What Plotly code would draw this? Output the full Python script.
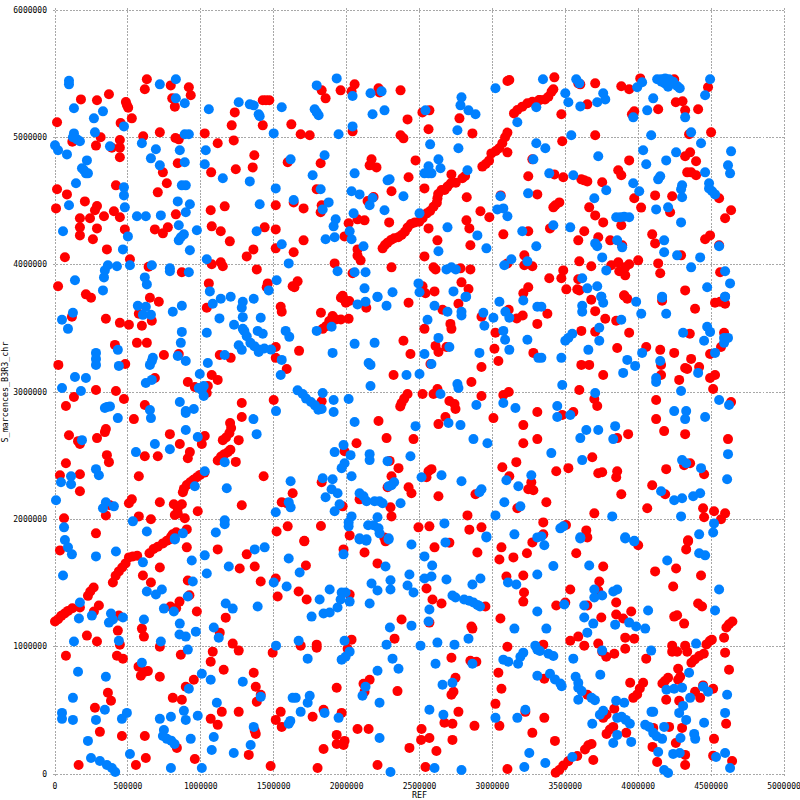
import plotly.graph_objects as go

# Match positions, in kilobases: (REF, S_marcences_B3R3_chr)
red_upper_left = [(630,5456),(616,5377),(794,5408),(918,5393),(931,5330),(804,5306),(822,5241),(178,5298),(288,5291),(370,5338),(486,5277),(493,5254),(502,5233),(527,5149),(450,5113),(14,5118),(605,5008),(719,5039),(826,4995),(849,4984),(1027,5031),(1116,4953),(1226,4976),(1212,5094),(1233,5196),(1425,5291),(1470,5291),(1447,5291),(1425,5094),(1621,5102),(313,5000),(119,4966),(281,4935),(445,4979),(445,4919),(390,4919),(445,4843),(842,4796),(740,4725),(767,4639),(705,4568),(418,4623),(14,4592),(82,4552),(205,4497),(288,4461),(274,4427),(7,4442),(171,4364),(240,4364),(336,4380),(404,4419),(445,4372),(171,4293),(288,4285),(171,4230),(260,4199),(479,4277),(356,4120),(68,4058),(514,4042),(642,3984),(685,4277),(740,4246),(774,4293),(829,4395),(870,3940),(1075,4003),(1137,4018),(1151,3987),(1075,4301),(1137,4262),(1199,4183),(1068,4427),(1164,4458),(1071,4725),(1240,4749),(1356,4764),(1367,4859),(1596,4804),(1438,4293),(1514,4277),(1514,4466),(1637,4489),(1361,4120),(1315,4065),(1514,4128),(1637,4097),(1384,3963),(1055,3853),(1459,3853),(1452,3822),(1630,3830),(21,3830),(212,3767)]
blue_upper_left = [(96,5445),(96,5416),(130,5228),(329,5204),(267,5149),(473,5086),(274,5039),(130,5031),(123,5000),(151,4984),(171,4969),(0,4937),(21,4898),(82,4866),(377,4929),(219,4819),(185,4757),(199,4741),(212,4717),(226,4717),(144,4639),(473,4607),(473,4544),(479,4450),(96,4466),(55,4262),(500,4222),(466,4120),(363,3995),(425,3987),(514,3995),(342,3955),(336,3900),(137,3877),(329,3798),(829,5456),(719,5416),(829,5306),(890,5267),(596,4953),(692,4906),(658,4835),(719,4780),(856,4898),(890,4804),(890,5024),(918,5024),(870,4623),(897,4623),(842,4497),(925,4474),(897,4411),(562,4380),(623,4380),(726,4387),(849,4309),(973,4270),(884,4238),(849,4191),(863,4215),(925,4113),(664,3995),(788,3971),(788,3948),(918,3940),(616,3900),(630,3845),(1055,5220),(1034,4898),(1027,4788),(1151,4678),(1336,4654),(1260,5275),(1336,5259),(1363,5251),(1397,5181),(1404,5165),(1555,5236),(1500,5031),(1616,4827),(1514,4599),(1637,4508),(1404,4474),(1383,4262),(1555,4160),(1603,4010),(1041,4042),(1520,3877),(1466,3798),(1062,3790)]
red_upper_mid = [(1829,5369),(1856,5306),(1959,5369),(2055,5416),(2034,5361),(2219,5385),(2226,5353),(2370,5369),(1685,5024),(1747,5016),(2041,5047),(2370,5016),(2390,4992),(2418,5141),(2562,5063),(2520,5196),(2568,5212),(2774,5149),(2863,5031),(3103,5442),(3116,5450),(1822,4796),(2171,4827),(2158,4780),(2205,4764),(2473,4819),(2425,4686),(1795,4592),(2308,4576),(2534,4599),(2185,4531),(2144,4500),(1705,4442),(1829,4466),(1822,4411),(2075,4356),(2123,4348),(2014,4325),(2292,4332),(2562,4285),(1705,4191),(1986,4222),(1918,4010),(2075,4120),(2075,4071),(2096,4034),(2041,3932),(2308,3979),(2534,4065),(2623,4191),(2596,3979),(2610,3963),(2781,3971),(2849,3963),(2822,4348),(2842,4285),(2849,4152),(2918,4419),(2979,4372),(3075,4238),(3246,4262),(2824,4529),(2719,4709),(3057,4544),(3246,4694),(3274,4827),(3308,4552),(3103,4882),(3219,4073),(3219,3995),(3274,3987),(3103,4010),(2788,3861),(2836,3809),(3246,3822),(3212,3775),(1664,3869),(1642,3822),(1973,3756),(2521,3830),(2541,3775),(2603,3790)]
red_diagonal_upper = [(2247,4128),(2263,4154),(2281,4173),(2304,4194),(2326,4207),(2354,4215),(2377,4233),(2400,4259),(2418,4291),(2441,4319),(2468,4332),(2498,4338),(2521,4364),(2550,4403),(2573,4421),(2596,4455),(2619,4487),(2623,4521),(2628,4555),(2651,4586),(2673,4586),(2692,4613),(2715,4639),(2749,4644),(2794,4678),(2813,4696),(2931,4770),(2954,4791),(2977,4817),(2993,4874),(3023,4893),(3046,4914),(3068,4953),(3087,5000),(3103,5037),(3148,5188),(3171,5215),(3205,5241),(3240,5267),(3274,5280),(3320,5293),(3326,5293),(3361,5298),(3384,5319),(3406,5359),(3418,5377)]
blue_upper_mid = [(1795,5408),(1932,5463),(2041,5325),(2164,5346),(2240,5361),(1781,5220),(1795,5196),(1808,5173),(2178,5181),(2260,5212),(2041,5086),(1945,5024),(2541,5212),(2788,5314),(2781,5251),(2836,5212),(2884,5181),(2760,5055),(3021,5385),(2573,4945),(2767,4914),(3171,5118),(3301,5236),(3301,4953),(3281,4827),(1849,4859),(1767,4702),(2055,4717),(2281,4662),(2295,4670),(2630,4827),(2562,4772),(2644,4757),(2534,4717),(2562,4717),(2582,4717),(2829,4741),(1822,4592),(2034,4576),(2089,4552),(2178,4524),(2158,4466),(2390,4537),(1877,4489),(1836,4434),(2048,4403),(2260,4427),(2500,4403),(1925,4356),(1911,4301),(1918,4215),(1856,4199),(2021,4262),(2034,4199),(2116,4144),(2692,4293),(2897,4230),(2959,4128),(2630,4105),(3055,4537),(3245,4560),(3034,4434),(3075,4442),(3103,4380),(3205,4262),(3301,4144),(3130,4042),(3240,4026),(3082,3995),(1938,3948),(2055,3940),(2130,3940),(2685,3963),(2719,3979),(2749,3963),(2123,3814),(2315,3783),(2212,3749),(2493,3853),(2500,3783),(2733,3790),(2820,3749)]
red_upper_right = [(3425,5471),(3603,5416),(3589,5424),(3705,5424),(3884,5401),(3938,5377),(4014,5463),(4247,5456),(4479,5393),(3651,5259),(3473,5181),(3973,5204),(3957,5181),(4137,5220),(4258,5275),(4304,5283),(4322,5212),(4411,5220),(3479,4969),(3705,5016),(4349,5024),(4500,5039),(3938,4819),(4356,4882),(4322,4851),(4397,4812),(3425,4709),(3486,4686),(3610,4670),(3630,4662),(3651,4654),(3863,4741),(3884,4702),(3753,4647),(4336,4725),(4363,4725),(4397,4702),(3459,4489),(3418,4450),(3432,4466),(3664,4450),(3973,4521),(4020,4448),(4116,4544),(4233,4537),(3705,4387),(3760,4332),(3884,4309),(4219,4411),(3395,4285),(3630,4262),(4555,4521),(4637,4427),(4596,4364),(4096,4238),(4116,4167),(3726,4215),(3589,4191),(3808,4191),(3890,4152),(4459,4199),(4493,4230),(4555,4152),(3596,4026),(3678,3987),(3815,3995),(3863,4018),(3938,4003),(4000,4034),(4137,4010),(4151,3932),(4294,4073),(3911,3979),(3870,3948),(3897,3948),(3911,3916),(3486,3955),(3473,3893),(3390,3893),(3589,3885),(3507,3806),(3582,3806),(3596,3798),(3904,3759),(4322,3798),(4562,3940)]
blue_upper_right = [(3347,5456),(3575,5456),(3596,5424),(3500,5346),(3521,5275),(3603,5243),(3719,5275),(3774,5298),(3760,5346),(3993,5393),(4027,5432),(4130,5456),(4157,5456),(4185,5463),(4212,5456),(4240,5437),(4267,5403),(4285,5385),(4183,5424),(4205,5398),(4228,5424),(4160,5437),(4493,5456),(4459,5330),(4103,5306),(4062,5212),(3966,5157),(4322,5157),(3541,5016),(4089,5016),(4363,5039),(4431,4953),(3363,4914),(3726,4851),(4034,4898),(4192,4819),(4260,4882),(4055,4788),(4637,4890),(4616,4780),(4630,4717),(3390,4717),(3555,4702),(4151,4694),(4137,4670),(4459,4725),(3966,4639),(3781,4584),(4007,4576),(4301,4623),(4294,4592),(4301,4529),(4486,4639),(4486,4599),(4507,4576),(4527,4552),(3699,4521),(4123,4434),(4205,4450),(3877,4372),(3849,4372),(3904,4377),(3938,4372),(3418,4309),(3534,4293),(4294,4332),(3856,4191),(3890,4136),(3705,4167),(3719,4144),(4178,4191),(4178,4097),(4267,4073),(4425,4057),(4555,4144),(3753,4057),(3781,3955),(3616,3893),(4363,3979),(4596,3948),(4630,3853),(4473,3822),(3651,3814),(3719,3830),(3747,3749),(4596,3749),(4164,3749)]
red_middle_left = [(247,3740),(651,3740),(712,3709),(1041,3662),(116,3591),(349,3575),(445,3543),(507,3528),(596,3520),(664,3559),(575,3614),(1548,3669),(1555,3630),(411,3370),(562,3386),(630,3386),(747,3291),(849,3299),(1130,3291),(1205,3268),(1514,3354),(1514,3268),(1589,3181),(23,3213),(482,3220),(685,3110),(1075,3134),(1116,3095),(911,3079),(959,3039),(1048,3047),(1041,2992),(281,3016),(418,3008),(130,2961),(75,2890),(473,2945),(616,2898),(1281,2913),(1500,2937),(1281,2803),(541,2787),(349,2709),(342,2685),(96,2661),(158,2614),(171,2591),(288,2638),(788,2669),(856,2591),(1027,2654),(1007,2591),(356,2504),(370,2449),(75,2441),(616,2496),(705,2496),(925,2528),(911,2480),(171,2354),(34,2346),(575,2339),(171,2220),(1431,2339),(1240,2451),(1281,2110),(1555,2134),(1630,2205),(1589,2126),(527,2157),(507,2126),(719,2134),(815,2118),(870,2118),(842,2047),(842,2087),(890,2008),(822,2034),(979,2063),(377,2110),(349,2031),(62,2008),(575,2023),(658,2000),(281,1890),(904,1921),(1520,1905),(1596,1945)]
red_diagonal_middle = [(1151,2622),(1173,2643),(1196,2677),(1208,2717),(1201,2756),(1260,2622),(1116,2462),(1139,2493),(1162,2512),(1185,2527),(1203,2546),(877,2213),(884,2239),(904,2270),(927,2291),(950,2310),(973,2331),(995,2349),(1025,2367),(785,1842),(808,1882),(831,1898)]
blue_middle_left = [(48,3567),(123,3622),(89,3496),(568,3677),(623,3669),(603,3606),(658,3606),(808,3630),(870,3677),(870,3472),(863,3386),(842,3283),(897,3244),(1041,3465),(1048,3228),(431,3331),(281,3307),(281,3260),(281,3213),(438,3205),(137,3118),(212,3110),(48,3031),(178,3008),(671,3268),(651,3213),(664,3244),(623,3071),(664,3095),(993,3142),(1020,3047),(1007,3016),(1020,2968),(986,3031),(1082,3693),(1137,3732),(1205,3748),(1363,3732),(1288,3709),(1281,3662),(1288,3588),(1128,3578),(1411,3583),(1228,3528),(1288,3496),(1390,3480),(1425,3457),(1582,3480),(1607,3433),(1299,3478),(1315,3438),(1340,3386),(1367,3360),(1397,3333),(1436,3341),(1482,3333),(1397,3315),(1260,3367),(1281,3331),(1555,3252),(1548,3134),(1164,3291),(356,2882),(377,2887),(431,2795),(342,2874),(856,2921),(952,2866),(897,2850),(897,2835),(651,2858),(658,2795),(1516,2850),(1361,2787),(1383,2669),(897,2701),(979,2646),(685,2591),(788,2551),(555,2528),(185,2622),(1164,2449),(1027,2378),(959,2260),(1178,2244),(281,2394),(301,2346),(110,2339),(41,2291),(110,2276),(7,2150),(1616,2299),(349,2134),(329,2087),(404,2102),(1603,2134),(1616,2094),(1514,2055),(534,1984),(62,1937),(630,1905),(1164,1992),(1164,1961),(1103,1897),(877,1890),(822,1842)]
red_center = [(1961,3740),(1984,3727),(2018,3714),(1995,3701),(2135,3662),(2425,3701),(2767,3693),(1824,3622),(1904,3596),(1927,3570),(1961,3570),(1881,3557),(1858,3517),(1836,3496),(1893,3530),(2014,3575),(2658,3646),(2534,3496),(2712,3535),(2719,3496),(3112,3646),(3167,3578),(3208,3601),(2925,3591),(3021,3465),(3308,3535),(2390,3402),(2438,3299),(2610,3362),(2630,3315),(2685,3354),(3014,3339),(3041,3244),(3281,3307),(1674,3323),(2575,3220),(2925,3197),(2322,3134),(2856,3079),(2521,2984),(2596,2984),(2623,3024),(2418,2984),(2395,2948),(2377,2913),(2368,2887),(2925,2968),(3075,2976),(3112,3000),(2705,2929),(2740,2906),(2747,2866),(1829,2927),(3007,2795),(3308,2843),(2219,2772),(2678,2803),(2630,2748),(3212,2740),(3212,2598),(3308,2630),(2068,2598),(2274,2638),(2459,2630),(1986,2535),(2356,2402),(3164,2449),(3068,2409),(2295,2459),(2308,2339),(2582,2394),(2562,2378),(2548,2331),(3116,2339),(3267,2291),(3246,2236),(3281,2228),(1829,2291),(2281,2252),(2425,2252),(2445,2205),(2089,2157),(2630,2181),(2884,2197),(1973,2102),(2301,2094),(2308,2023),(3171,2087),(2829,2031),(1824,1947),(2493,1937),(2568,1945),(2842,1919),(2925,1937),(2021,1874),(2258,1858),(1710,1832)]
blue_center = [(2075,3688),(2130,3709),(2212,3746),(2274,3677),(2603,3677),(2692,3630),(2788,3630),(2788,3601),(2815,3746),(3048,3709),(3212,3719),(3308,3669),(2938,3622),(3007,3583),(3089,3630),(3116,3583),(2555,3567),(2945,3520),(3075,3480),(3087,3410),(3240,3410),(1897,3512),(1795,3480),(2055,3378),(2192,3386),(1904,3307),(2630,3425),(2705,3354),(2534,3299),(2911,3307),(3116,3331),(3315,3268),(2151,3228),(2164,3213),(2582,3220),(2411,3134),(2500,3142),(2164,3047),(2760,3063),(2767,3031),(2644,2984),(1664,3013),(1699,2984),(1722,2948),(1756,2921),(1783,2895),(1806,2861),(1829,2866),(1836,2992),(1911,2937),(2014,2945),(1911,2843),(2055,2764),(2473,2732),(2699,2756),(2781,2740),(2890,2898),(3075,2913),(3158,2874),(2870,2630),(2966,2598),(1979,2583),(1918,2528),(2027,2504),(2158,2512),(2158,2465),(2281,2457),(2438,2496),(1986,2441),(1966,2402),(2034,2339),(1836,2323),(1904,2315),(1897,2236),(1938,2205),(1856,2173),(1952,2118),(1918,2063),(2514,2331),(2651,2346),(2788,2299),(2925,2236),(2911,2213),(2326,2291),(2308,2268),(2288,2260),(2089,2205),(2116,2181),(2137,2142),(2192,2142),(2226,2142),(2247,2126),(2370,2126),(3096,2307),(3267,2346),(3178,2260),(3082,2134),(3192,2102),(2034,2023),(2014,1976),(2014,1945),(2212,2016),(2148,1953),(2185,1953),(2219,1929),(2226,1890),(2671,1968),(3021,2031),(3151,1882),(2089,1842),(2135,1832),(2288,1842),(2959,1858),(3308,1858)]
red_middle_right = [(3678,3725),(3904,3756),(3925,3732),(4164,3717),(4390,3654),(4527,3701),(4562,3709),(4596,3693),(3377,3614),(3705,3635),(3774,3575),(3849,3559),(3610,3480),(3705,3473),(3938,3465),(4354,3457),(4589,3465),(4568,3354),(4493,3299),(3856,3346),(4055,3354),(4151,3331),(4247,3307),(4363,3260),(3610,3213),(3664,3213),(4157,3213),(4322,3189),(4336,3181),(4418,3197),(3760,3134),(4157,3134),(4281,3095),(4493,3110),(4527,3134),(3596,3016),(4514,3024),(3699,2945),(3719,2890),(4123,2937),(4637,2921),(3555,2843),(3479,2819),(4123,2787),(4178,2693),(4322,2669),(3931,2669),(3856,2638),(4616,2630),(3685,2488),(3521,2402),(3438,2378),(3726,2362),(3753,2370),(3856,2378),(3849,2331),(4192,2394),(4315,2425),(4356,2441),(4452,2354),(4096,2268),(4185,2197),(3884,2197),(3370,2134),(4062,2087),(3699,2047),(4445,2087),(4520,2063),(4596,2047),(4568,2000),(4452,2016),(3349,1976),(3505,1955),(3644,1913),(3651,1858),(3349,1882),(4342,1835)]
blue_middle_right = [(3336,3669),(3616,3677),(3616,3630),(3747,3748),(3760,3701),(3986,3709),(4021,3614),(4164,3740),(4192,3614),(4596,3748),(3548,3457),(3521,3425),(3500,3402),(3733,3504),(3733,3402),(3884,3567),(3658,3331),(4308,3465),(4473,3512),(4493,3472),(4452,3402),(4589,3425),(4616,3425),(4589,3386),(4527,3307),(4027,3307),(4151,3244),(3925,3252),(3979,3205),(3897,3150),(3473,3268),(3336,3268),(4411,3150),(4123,3110),(4123,3079),(3479,3055),(3705,2992),(4294,3008),(4555,2937),(4623,2898),(3445,2890),(3445,2803),(3534,2819),(4247,2850),(4329,2850),(4322,2787),(4459,2803),(3644,2701),(3726,2701),(3842,2732),(3603,2638),(3829,2630),(3404,2520),(3616,2465),(4616,2512),(4301,2465),(4329,2441),(4431,2402),(4610,2315),(4157,2220),(4247,2150),(4301,2165),(4377,2181),(4425,2205),(3822,2023),(4294,2023),(4520,1968),(3486,1945),(3466,1929),(3336,1866),(3603,1850),(3911,1850),(3973,1832),(4418,1882),(4514,1897)]
red_lower_left = [(34,1756),(904,1780),(1116,1764),(1315,1725),(1267,1614),(1370,1630),(719,1622),(603,1559),(658,1504),(911,1520),(1411,1512),(1514,1536),(1527,1394),(922,1404),(854,1354),(792,1315),(831,1302),(973,1276),(1171,1228),(438,1244),(171,1307),(301,1323),(267,1276),(596,1142),(610,1079),(431,1126),(1130,1110),(1219,1024),(1260,969),(1082,961),(1068,882),(1493,953),(219,1087),(288,1040),(445,1016),(719,1000),(75,929),(425,929),(466,906),(863,937),(573,843),(616,803),(637,808),(589,772),(719,764),(1157,819),(952,740),(897,685),(1363,795),(1377,685),(1411,622),(1384,567),(363,638),(384,575),(808,598),(870,583),(274,520),(1260,488),(1144,488),(1548,488),(1514,425),(1555,370),(1068,433),(1116,386),(1370,339),(1377,315),(308,331),(459,299),(616,299),(836,205),(623,126),(555,71),(162,71),(959,118),(1329,150),(1479,63)]
red_diagonal_lower = [(0,1197),(21,1215),(43,1242),(66,1260),(89,1281),(119,1302),(226,1399),(242,1433),(265,1465),(397,1504),(416,1557),(438,1591),(461,1622),(484,1654),(507,1701),(534,1709),(564,1714),(648,1733),(676,1767),(705,1785),(740,1811),(767,1832),(797,1864)]
blue_lower_left = [(68,1838),(89,1780),(116,1725),(281,1709),(418,1748),(822,1851),(55,1559),(603,1662),(938,1677),(1027,1717),(1041,1575),(1192,1630),(1370,1764),(1438,1780),(1603,1693),(945,1512),(630,1433),(692,1410),(733,1449),(911,1394),(1500,1504),(1589,1473),(171,1347),(253,1244),(164,1221),(384,1260),(397,1213),(370,1189),(466,1229),(747,1299),(815,1276),(610,1213),(856,1181),(1171,1339),(1219,1299),(1390,1315),(1089,1150),(1123,1071),(854,1095),(897,1079),(966,1118),(130,1040),(438,1047),(726,1040),(911,977),(1516,1008),(596,874),(1007,787),(1068,740),(1288,725),(158,803),(349,764),(918,669),(1411,606),(123,598),(1110,559),(1630,598),(342,504),(493,480),(459,433),(884,496),(48,480),(48,433),(123,425),(281,425),(719,433),(795,449),(897,425),(979,457),(1603,394),(1614,417),(1363,370),(747,346),(740,299),(767,276),(797,262),(820,236),(931,276),(1089,291),(1342,228),(226,260),(1075,189),(1226,165),(514,157),(247,126),(308,102),(356,71),(390,47),(413,16),(795,47),(1007,47)]
red_lower_mid = [(1710,1827),(1979,1764),(2123,1740),(2267,1827),(2212,1654),(2603,1780),(2705,1817),(2897,1740),(1721,1638),(3062,1780),(3048,1685),(3144,1701),(3237,1733),(3274,1819),(1671,1433),(1726,1370),(2021,1410),(3096,1551),(3212,1559),(3217,1425),(3212,1354),(2548,1457),(2589,1370),(2651,1339),(2952,1315),(2377,1213),(2568,1189),(2856,1158),(2863,1142),(3055,1221),(1685,1008),(1795,1016),(1795,992),(2034,1055),(2007,984),(2329,1063),(3103,1000),(2719,913),(2849,890),(2890,882),(3041,795),(2747,756),(2158,740),(2116,709),(1932,677),(2349,651),(3062,669),(2733,646),(2719,622),(2123,646),(3021,551),(1842,504),(1966,480),(1767,449),(2767,488),(3226,488),(2075,354),(2151,354),(2514,354),(2671,402),(2726,394),(2877,378),(3048,378),(1932,307),(2511,268),(2568,283),(2726,268),(1986,260),(1932,236),(1979,228),(3274,323),(1842,197),(2431,205),(2616,181),(1801,47),(2212,71),(2541,55),(3103,39)]
blue_lower_mid = [(2089,1851),(2137,1843),(2288,1851),(2445,1803),(1979,1725),(2534,1709),(2678,1819),(2959,1866),(1678,1583),(2267,1630),(2431,1567),(2587,1638),(3308,1567),(3308,1276),(2534,1536),(2582,1551),(2685,1528),(2918,1536),(2863,1488),(2301,1522),(2171,1496),(2418,1480),(2212,1441),(2301,1449),(2459,1425),(1884,1449),(1815,1370),(1966,1425),(1993,1425),(1959,1370),(2021,1354),(1938,1307),(1884,1268),(1842,1260),(1760,1236),(2158,1339),(3107,1504),(3164,1488),(2726,1402),(2747,1386),(2806,1370),(2840,1360),(2870,1347),(2897,1328),(2915,1315),(2568,1292),(2562,1197),(2445,1165),(2297,1150),(3151,1142),(1671,1047),(1986,1047),(2274,1016),(2507,1008),(2623,1032),(2740,1016),(2836,1063),(2021,961),(1993,921),(1966,898),(1733,906),(2315,906),(2356,827),(2212,811),(2610,866),(2863,866),(3075,898),(3109,882),(3176,866),(3192,921),(3212,953),(3294,1008),(3308,977),(3308,772),(2658,701),(2726,717),(2130,685),(2109,614),(2226,559),(1747,614),(1733,559),(1651,598),(1685,488),(1849,480),(1945,441),(2568,504),(2664,465),(3021,441),(3171,441),(3226,504),(2226,283),(3253,165),(2301,16),(2603,47),(2788,31),(3219,55)]
red_lower_right = [(3644,1866),(4000,1796),(4342,1827),(4329,1764),(3575,1733),(3760,1630),(4260,1614),(4116,1591),(4431,1559),(3733,1512),(3534,1449),(3726,1441),(4240,1473),(3500,1347),(3438,1323),(3651,1323),(3849,1347),(4411,1339),(4438,1315),(3952,1276),(3849,1252),(3897,1221),(3747,1229),(4247,1236),(4267,1247),(4315,1181),(3534,1047),(3589,1079),(3630,1008),(3726,1024),(3349,1016),(3911,1071),(3973,1063),(3911,984),(3781,921),(3753,961),(3836,945),(4055,906),(4233,1008),(4233,961),(4267,961),(4322,1008),(4336,961),(4365,874),(4388,900),(4418,927),(4450,945),(4468,1018),(4491,1045),(4505,1055),(4589,1071),(4596,953),(4623,819),(4605,1150),(4623,1176),(4646,1197),(4274,827),(4288,764),(4274,740),(4205,756),(4183,730),(4166,711),(3945,717),(4034,717),(4011,672),(3993,625),(3966,598),(3356,748),(3651,622),(3836,512),(4192,583),(4281,575),(4390,646),(4425,598),(4445,696),(4514,669),(3356,441),(3760,441),(3783,467),(4301,362),(4103,362),(4212,370),(4603,394),(3829,370),(3806,349),(3783,315),(3918,323),(4520,276),(3429,260),(4098,213),(4258,244),(4322,150),(4514,144),(4130,94),(4322,71),(4644,102),(3692,110),(3434,10),(3459,31),(3486,66),(3520,100),(3582,142),(3635,192),(3658,226),(3680,236)]
blue_lower_right = [(3356,1796),(3603,1859),(3911,1859),(3973,1827),(4199,1677),(4418,1733),(4459,1717),(3418,1633),(3664,1638),(4555,1449),(3699,1449),(3829,1433),(3856,1449),(3699,1386),(3753,1402),(3493,1331),(3630,1323),(4068,1284),(4527,1284),(3630,1229),(3692,1181),(3842,1173),(3938,1189),(3986,1158),(4048,1142),(3370,1142),(3651,1110),(4397,1024),(3753,969),(4089,969),(3555,906),(3326,966),(3384,945),(3418,927),(4349,795),(3740,780),(3395,787),(3429,743),(3466,711),(3475,690),(3571,764),(3589,717),(3589,677),(3612,651),(3589,583),(3680,598),(3703,580),(3849,575),(3904,559),(4194,661),(4247,669),(4301,677),(4356,598),(4445,685),(4479,646),(4610,622),(4308,535),(4281,480),(4329,425),(4452,402),(4596,480),(4091,488),(4103,488),(3760,496),(3737,465),(3685,394),(3856,441),(3886,449),(3915,425),(3943,394),(4048,386),(4075,370),(4103,323),(4126,297),(4164,276),(4178,370),(3856,307),(3829,244),(3952,252),(4290,283),(4384,315),(4391,276),(4137,173),(4240,158),(4285,165),(4534,134),(4596,165),(4630,47),(3363,87),(4178,31),(4205,8),(3548,134)]

x_tick_values = [0, 500000, 1000000, 1500000, 2000000, 2500000, 3000000, 3500000, 4000000, 4500000, 5000000]
y_tick_values = [0, 1000000, 2000000, 3000000, 4000000, 5000000, 6000000]
x_title = "REF"
y_title = "S_marcences_B3R3_chr"

red = (red_upper_left + red_upper_mid + red_diagonal_upper + red_upper_right + red_middle_left
       + red_diagonal_middle + red_center + red_middle_right + red_lower_left
       + red_diagonal_lower + red_lower_mid + red_lower_right)
blue = (blue_upper_left + blue_upper_mid + blue_upper_right + blue_middle_left + blue_center
        + blue_middle_right + blue_lower_left + blue_lower_mid + blue_lower_right)

def trace(points, colour):
    return go.Scatter(x=[p[0] * 1000 for p in points], y=[p[1] * 1000 for p in points],
                      mode="markers", cliponaxis=False, showlegend=False,
                      marker=dict(color=colour, size=10, line=dict(width=0)))

fig = go.Figure([trace(red, "#ff0000"), trace(blue, "#0080ff")])
font = dict(family="DejaVu Sans Mono", size=8, color="#000000")
title_font = dict(family="DejaVu Sans Mono", size=8.4, color="#000000")
axis = dict(showgrid=True, gridcolor="#a8a8a8", gridwidth=1, griddash="2px,1.3px", zeroline=False,
            showline=False, tickmode="array", tickfont=font, ticks="", tickformat="d",
            layer="below traces", ticklabeloverflow="allow")
fig.update_layout(width=800, height=800, paper_bgcolor="#ffffff", plot_bgcolor="#ffffff",
                  margin=dict(l=53, r=14, t=8, b=24, autoexpand=False), font=font,
                  xaxis=dict(axis, range=[-13700, 5013700], tickvals=x_tick_values,
                             ticktext=[str(v) for v in x_tick_values], ticklabelstandoff=4,
                             title=dict(text=x_title, font=title_font, standoff=5)),
                  yaxis=dict(axis, range=[-15700, 6015700], tickvals=y_tick_values,
                             ticktext=[str(v) for v in y_tick_values], ticklabelstandoff=5,
                             title=dict(text=y_title, font=title_font, standoff=7)))
fig.write_html("out.html", config={"displayModeBar": False},
               post_script="document.body.style.margin='0';document.body.style.overflow='hidden';")
